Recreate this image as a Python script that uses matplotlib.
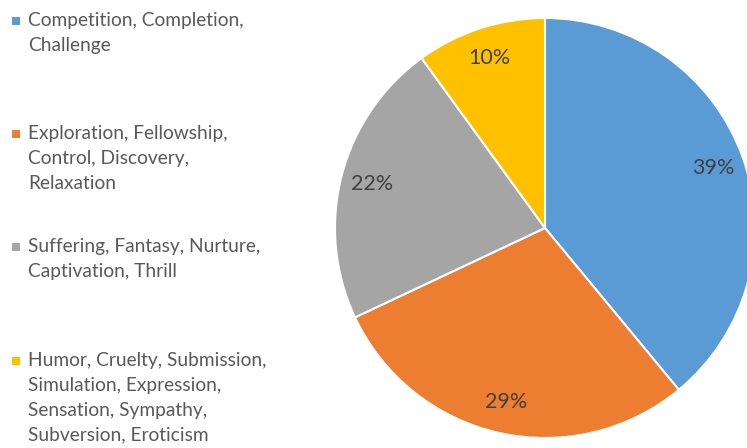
import matplotlib
matplotlib.use("Agg")
import matplotlib.pyplot as plt
from matplotlib.patches import Rectangle

plt.rcParams['font.family'] = ['Lato', 'DejaVu Sans']

# data
categories = [
    "Competition, Completion,\nChallenge",
    "Exploration, Fellowship,\nControl, Discovery,\nRelaxation",
    "Suffering, Fantasy, Nurture,\nCaptivation, Thrill",
    "Humor, Cruelty, Submission,\nSimulation, Expression,\nSensation, Sympathy,\nSubversion, Eroticism",
]
shares = [39, 29, 22, 10]
colors = ['#5B9BD5', '#ED7D31', '#A5A5A5', '#FFC000']

W, H = 747, 448
fig = plt.figure(figsize=(W / 100, H / 100), dpi=100)

# pie axes, centre (545, 228) px, radius 210 px
cx, cy, r = 545, 228, 210
ax = fig.add_axes([(cx - r) / W, (H - cy - r) / H, 2 * r / W, 2 * r / H])
wedges, _, pcts = ax.pie(shares, colors=colors, startangle=90, counterclock=False,
                         autopct='%d%%', pctdistance=0.85,
                         wedgeprops=dict(edgecolor='white', linewidth=1.5),
                         textprops=dict(fontsize=15.5, color='#404040'))
ax.set_xlim(-1, 1)
ax.set_ylim(-1, 1)
ax.set_aspect('equal')
ax.axis('off')

# hand-made legend on the left
entry_y = [21, 134, 247, 361]  # px from top, centre of first line
for lab, col, y in zip(categories, colors, entry_y):
    fig.patches.append(Rectangle(((16 - 4) / W, (H - y - 4) / H), 8 / W, 8 / H,
                                 transform=fig.transFigure, facecolor=col, edgecolor='none'))
    fig.text(28 / W, (H - y + 9) / H, lab, fontsize=13.8, color='#595959',
             ha='left', va='top', linespacing=1.56)

fig.savefig('out.png', dpi=100)
